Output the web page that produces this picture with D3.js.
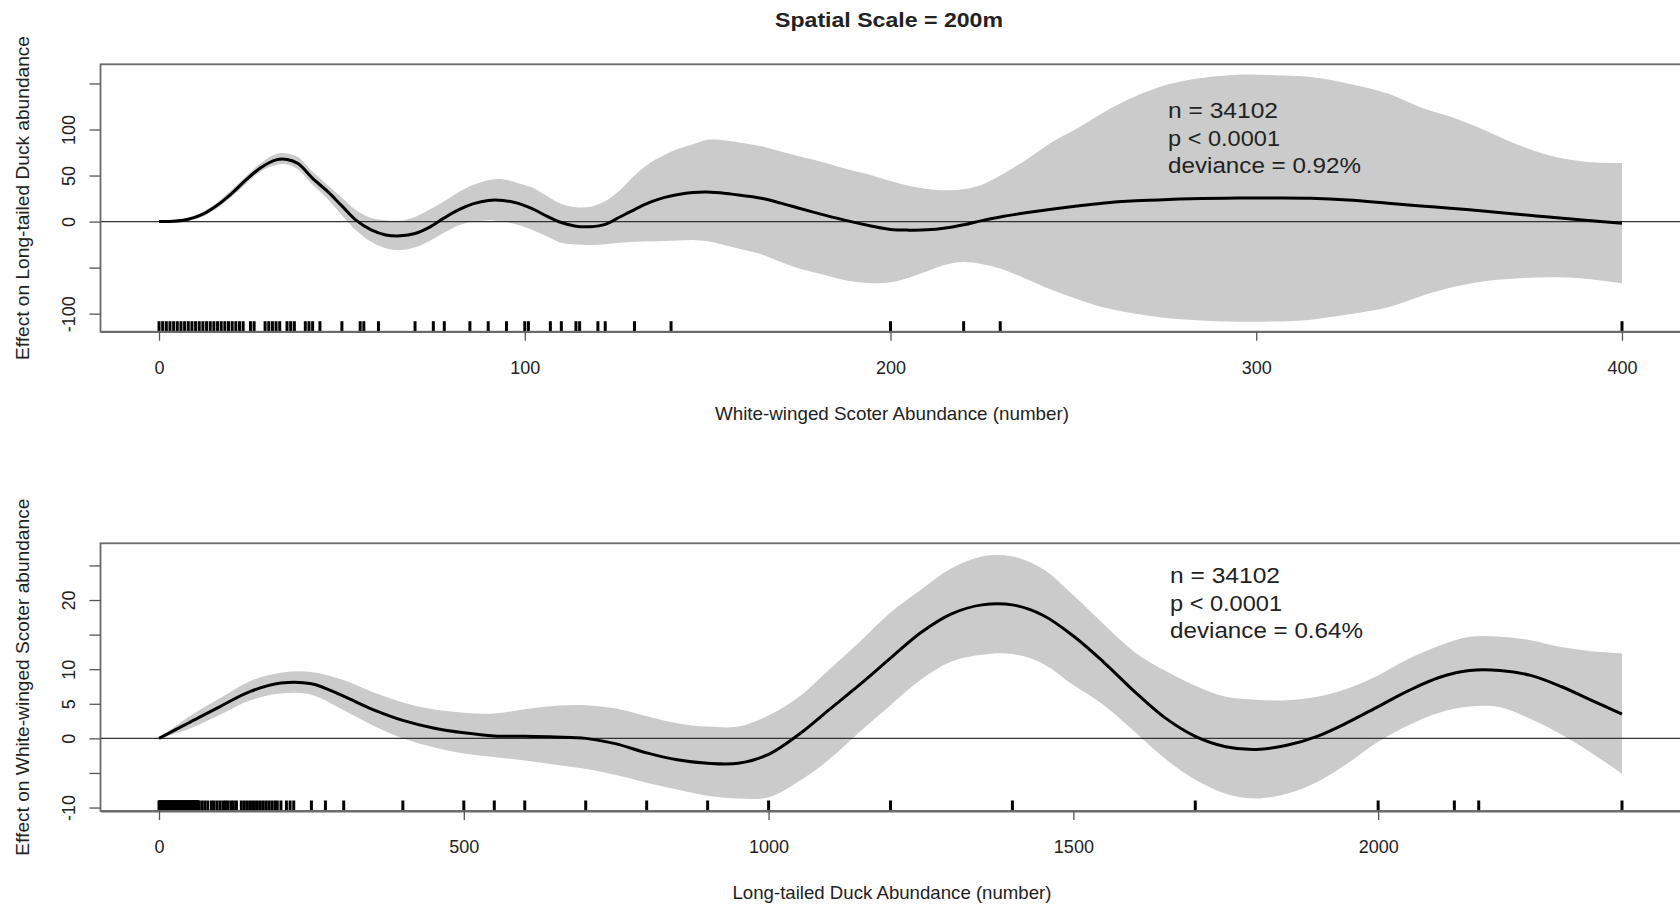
<!DOCTYPE html>
<html>
<head>
<meta charset="utf-8">
<script src="https://cdn.jsdelivr.net/npm/d3@7"></script>
<style>
  html, body { margin: 0; padding: 0; background: #fff; }
  svg { display: block; }
  text { font-family: "Liberation Sans", Arial, sans-serif; fill: #222; }
</style>
</head>
<body>
<svg id="chart" width="1680" height="906"></svg>
<script>
// ---------------- DATA ----------------
const titleText = "Spatial Scale = 200m";

// Top panel: effect of White-winged Scoter abundance on Long-tailed Duck abundance
const topX     = [0, 4, 8, 12, 16, 20, 24, 28, 32, 35, 38, 42, 46, 50, 54, 58, 62, 66, 70, 74, 78, 82, 86, 90, 94, 98, 102, 106, 110, 114, 118, 122, 126, 130, 134, 138, 142, 146, 150, 155, 160, 165, 170, 175, 182, 188, 195, 200, 205, 210, 215, 220, 225, 230, 237, 244, 251, 258, 267, 276, 285, 295, 305, 315, 325, 336, 345, 353, 362, 370, 380, 390, 400];
const topFit   = [0, 0.3, 2.5, 8, 18, 31, 46, 59, 67, 67.5, 63, 47, 33, 17, 1, -9, -14.5, -15.5, -13, -6, 4, 13, 19.5, 23, 23, 20, 14, 6, -1, -5, -5.5, -3, 5, 13, 20.5, 26, 29.5, 31.5, 32, 30.5, 28, 25, 20, 14.5, 7, 1, -5, -8.5, -9.3, -9, -7, -3.5, 1, 5, 9.5, 13.5, 17, 20, 22.5, 24, 25, 25.5, 25.5, 25.2, 23.5, 20, 17, 14.5, 11.5, 8.5, 5, 1.5, -1.8];
const topLower = [0, -0.5, 1, 5.5, 15, 27.5, 42, 55, 61.5, 62, 56.5, 40, 25, 7, -10, -22, -29, -31, -28, -21, -12, -4, 0, 1.5, 0, -3.5, -9, -16, -23, -25, -25.5, -24.5, -23, -22, -21.5, -21, -20.5, -20, -21.5, -26, -31, -36, -44, -51, -58, -64, -67, -66, -61, -54, -47, -44, -46, -51, -62, -74, -84, -93, -100, -105, -107.5, -108.7, -108.5, -106.5, -101, -93, -81, -72, -65, -62, -60.5, -62, -67];
const topUpper = [0, 1, 4, 10.5, 21, 35, 50, 64, 73.5, 74, 70, 54, 40, 26, 12, 4, 1.5, 1, 5, 13, 22, 32, 40, 45, 46, 42, 37, 28, 19, 15.5, 16, 22, 34, 50, 63, 72, 79, 84, 88.8, 88, 85, 81.5, 76, 71, 64, 57, 50, 44, 39, 35.5, 34, 35, 40, 50, 67, 86, 101, 118, 136, 149, 156, 159.5, 159, 157, 150, 139, 124, 114, 100, 86, 72, 65, 63.5];
const topRug   = [0, 1, 2, 3, 4, 5, 6, 7, 8, 9, 10, 11, 12, 13, 14, 15, 16, 17, 18, 19, 20, 21, 22, 23, 25, 26, 29, 30, 31, 32, 33, 35, 36, 37, 40, 41, 42, 44, 50, 55, 56, 60, 70, 75, 78, 85, 90, 95, 100, 101, 107, 110, 114, 115, 120, 122, 130, 140, 200, 220, 230, 400];
const topXTicks = [0, 100, 200, 300, 400];
const topYTicks = [-100, -50, 0, 50, 100, 150];
const topYLabels = ["-100", "", "0", "50", "100", ""];
const topXTitle = "White-winged Scoter Abundance (number)";
const topYTitle = "Effect on Long-tailed Duck abundance";
const topStats = ["n = 34102", "p < 0.0001", "deviance = 0.92%"];

// Bottom panel: effect of Long-tailed Duck abundance on White-winged Scoter abundance
const botX     = [0, 50, 100, 150, 200, 250, 300, 350, 400, 450, 500, 550, 600, 650, 700, 750, 800, 850, 900, 950, 1000, 1050, 1100, 1150, 1200, 1250, 1300, 1350, 1400, 1450, 1500, 1550, 1600, 1650, 1700, 1750, 1800, 1850, 1900, 1950, 2000, 2050, 2100, 2150, 2200, 2250, 2300, 2350, 2400];
const botFit   = [0, 2.3, 4.6, 6.8, 8.0, 7.9, 6.2, 4.2, 2.6, 1.5, 0.8, 0.35, 0.3, 0.2, 0, -0.8, -2.1, -3.1, -3.6, -3.6, -2.3, 0.6, 4.2, 7.8, 11.6, 15.3, 18.0, 19.3, 19.3, 17.8, 14.8, 11.0, 6.8, 3.0, 0.3, -1.2, -1.6, -1.0, 0.3, 2.3, 4.6, 6.9, 8.8, 9.8, 9.8, 9.1, 7.5, 5.5, 3.5];
const botLower = [0, 1.4, 3.4, 5.5, 6.5, 6.3, 4.2, 1.9, 0.0, -1.3, -2.2, -2.7, -3.2, -3.8, -4.4, -5.3, -6.4, -7.4, -8.3, -8.7, -8.5, -6.2, -3.0, 1.0, 4.8, 8.5, 11.1, 12.1, 12.2, 10.8, 7.7, 4.8, 1.0, -2.9, -6.0, -8.0, -8.7, -8.0, -6.3, -3.6, -0.5, 1.9, 3.7, 4.6, 4.5, 2.8, 0.6, -2.1, -5.1];
const botUpper = [0, 3.2, 5.8, 8.3, 9.5, 9.6, 8.5, 6.7, 5.2, 4.2, 3.7, 3.6, 4.2, 4.7, 4.8, 4.3, 3.2, 2.2, 1.7, 1.7, 3.3, 6.0, 10.0, 14.0, 18.2, 21.5, 24.6, 26.3, 26.3, 24.5, 20.7, 16.5, 12.5, 9.8, 7.6, 6.0, 5.6, 5.5, 6.0, 7.2, 9.1, 11.5, 13.4, 14.7, 14.7, 14.2, 13.2, 12.6, 12.3];
const botRug   = [0, 1, 2, 3, 4, 5, 6, 7, 8, 9, 10, 11, 12, 13, 14, 15, 16, 17, 18, 19, 20, 21, 22, 23, 24, 25, 26, 27, 28, 29, 30, 31, 32, 33, 34, 35, 36, 37, 38, 39, 40, 41, 42, 43, 44, 45, 46, 47, 48, 49, 50, 51, 52, 53, 54, 55, 56, 57, 58, 59, 60, 61, 62, 63, 64, 65, 70, 75, 80, 86, 90, 95, 100, 105, 109, 113, 118, 122, 127, 135, 140, 145, 150, 155, 160, 165, 170, 175, 180, 185, 190, 194, 200, 209, 215, 221, 250, 273, 303, 400, 500, 550, 600, 700, 800, 900, 1000, 1200, 1400, 1700, 2000, 2125, 2165, 2400];
const botXTicks = [0, 500, 1000, 1500, 2000];
const botYTicks = [-10, -5, 0, 5, 10, 15, 20, 25];
const botYLabels = ["-10", "", "0", "5", "10", "", "20", ""];
const botXTitle = "Long-tailed Duck Abundance (number)";
const botYTitle = "Effect on White-winged Scoter abundance";
const botStats = ["n = 34102", "p < 0.0001", "deviance = 0.64%"];

// ---------------- DRAWING ----------------
const svg = d3.select("#chart");

svg.append("text")
  .attr("x", 889).attr("y", 27)
  .attr("text-anchor", "middle")
  .attr("font-size", 21).attr("font-weight", "bold")
  .attr("textLength", 228).attr("lengthAdjust", "spacingAndGlyphs")
  .text(titleText);

function panel(cfg) {
  const L = 100.5, R = 1680.5;
  const x = d3.scaleLinear().domain(cfg.xDomain).range([L, R]);
  const y = d3.scaleLinear().domain(cfg.yDomain).range([cfg.bottom, cfg.top]);
  const id = "clip" + cfg.name;
  svg.append("clipPath").attr("id", id).append("rect")
    .attr("x", L).attr("y", cfg.top).attr("width", R - L).attr("height", cfg.bottom - cfg.top);

  const g = svg.append("g");
  const rows = cfg.xs.map((v, i) => ({x: v, fit: cfg.fit[i], lo: cfg.lo[i], hi: cfg.hi[i]}));
  const curve = d3.curveCatmullRom.alpha(0.5);

  const plot = g.append("g").attr("clip-path", `url(#${id})`);
  plot.append("path").datum(rows)
    .attr("fill", "#cbcbcb")
    .attr("d", d3.area().x(d => x(d.x)).y0(d => y(d.lo)).y1(d => y(d.hi)).curve(curve));

  // zero reference line
  plot.append("line")
    .attr("x1", L).attr("x2", R).attr("y1", y(0)).attr("y2", y(0))
    .attr("stroke", "#333").attr("stroke-width", 1.2);

  plot.append("path").datum(rows)
    .attr("fill", "none").attr("stroke", "#000").attr("stroke-width", 3)
    .attr("stroke-linejoin", "round")
    .attr("d", d3.line().x(d => x(d.x)).y(d => y(d.fit)).curve(curve));

  // rug
  g.append("g").selectAll("line").data(cfg.rug).join("line")
    .attr("x1", d => x(d)).attr("x2", d => x(d))
    .attr("y1", cfg.bottom).attr("y2", cfg.bottom - 10.5)
    .attr("stroke", "#000").attr("stroke-width", 3);

  // box
  g.append("rect")
    .attr("x", L).attr("y", cfg.top).attr("width", R - L + 2).attr("height", cfg.bottom - cfg.top)
    .attr("fill", "none").attr("stroke", "#6a6a6a").attr("stroke-width", 1.8);

  // x axis
  const xa = g.append("g").attr("transform", `translate(0,${cfg.bottom})`)
    .call(d3.axisBottom(x).tickValues(cfg.xTicks).tickSize(9).tickSizeOuter(0).tickFormat(d3.format("d")));
  xa.select(".domain").attr("stroke", "#6a6a6a").attr("stroke-width", 1.8);
  xa.selectAll(".tick line").attr("stroke", "#555").attr("stroke-width", 1.3);
  xa.selectAll(".tick text")
    .attr("y", 42).attr("dy", 0)
    .attr("font-size", 18).attr("font-family", "Liberation Sans, Arial, sans-serif")
    .attr("fill", "#222");

  // y axis
  const ya = g.append("g").attr("transform", `translate(${L},0)`)
    .call(d3.axisLeft(y).tickValues(cfg.yTicks).tickSize(11).tickSizeOuter(0)
      .tickFormat((d, i) => cfg.yLabels[i]));
  ya.select(".domain").remove();
  ya.selectAll(".tick line").attr("stroke", "#555").attr("stroke-width", 1.3);
  ya.selectAll(".tick text")
    .attr("x", 0).attr("dy", 0).attr("y", 0)
    .attr("text-anchor", "middle")
    .attr("transform", "translate(-26,0) rotate(-90)")
    .attr("font-size", 18).attr("font-family", "Liberation Sans, Arial, sans-serif")
    .attr("fill", "#222");

  // axis titles
  g.append("text")
    .attr("x", 892).attr("y", cfg.bottom + 88)
    .attr("text-anchor", "middle").attr("font-size", 18.5)
    .attr("textLength", cfg.xTitleLen).attr("lengthAdjust", "spacingAndGlyphs")
    .text(cfg.xTitle);
  g.append("text")
    .attr("transform", `translate(28.5,${(cfg.top + cfg.bottom) / 2}) rotate(-90)`)
    .attr("text-anchor", "middle").attr("font-size", 18.5)
    .attr("textLength", cfg.yTitleLen).attr("lengthAdjust", "spacingAndGlyphs")
    .text(cfg.yTitle);

  // stats annotation
  const widths = [110, 112, 193];
  g.append("g").selectAll("text").data(cfg.stats).join("text")
    .attr("x", cfg.statX)
    .attr("y", (d, i) => cfg.statY + i * 27.3)
    .attr("font-family", "Open Sans, Noto Sans, sans-serif")
    .attr("font-size", 22.5)
    .attr("fill", "#2a2a2a")
    .attr("textLength", (d, i) => widths[i]).attr("lengthAdjust", "spacingAndGlyphs")
    .text(d => d);
}

panel({
  name: "top", top: 64.3, bottom: 331.7,
  xDomain: [-16, 416], yDomain: [-119.6, 170.8],
  xs: topX, fit: topFit, lo: topLower, hi: topUpper, rug: topRug,
  xTicks: topXTicks, yTicks: topYTicks, yLabels: topYLabels,
  xTitle: topXTitle, yTitle: topYTitle, xTitleLen: 354, yTitleLen: 324,
  stats: topStats, statX: 1168, statY: 118.3
});

panel({
  name: "bot", top: 543.3, bottom: 811,
  xDomain: [-96, 2496], yDomain: [-10.5, 28.2],
  xs: botX, fit: botFit, lo: botLower, hi: botUpper, rug: botRug,
  xTicks: botXTicks, yTicks: botYTicks, yLabels: botYLabels,
  xTitle: botXTitle, yTitle: botYTitle, xTitleLen: 319, yTitleLen: 357,
  stats: botStats, statX: 1170, statY: 583.3
});
</script>
</body>
</html>
